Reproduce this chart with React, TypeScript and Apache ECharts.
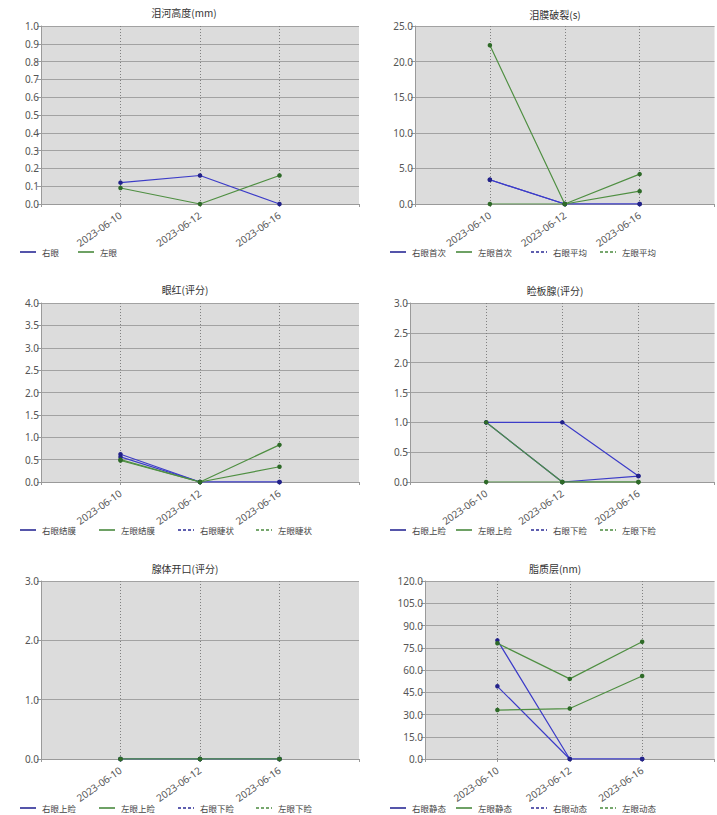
import React, { useEffect, useRef } from "react";
import * as echarts from "echarts";

const dates = ["2023-06-10", "2023-06-12", "2023-06-16"];

const titles = ["泪河高度(mm)", "泪膜破裂(s)", "眼红(评分)", "睑板腺(评分)", "腺体开口(评分)", "脂质层(nm)"];

const names1 = ["右眼", "左眼"];
const names2 = ["右眼首次", "左眼首次", "右眼平均", "左眼平均"];
const names3 = ["右眼结膜", "左眼结膜", "右眼睫状", "左眼睫状"];
const names4 = ["右眼上睑", "左眼上睑", "右眼下睑", "左眼下睑"];
const names5 = ["右眼上睑", "左眼上睑", "右眼下睑", "左眼下睑"];
const names6 = ["右眼静态", "左眼静态", "右眼动态", "左眼动态"];

// 泪河高度
const tearRight = [0.12, 0.16, 0];
const tearLeft = [0.09, 0, 0.16];
// 泪膜破裂
const butRightFirst = [3.4, 0, 0];
const butLeftFirst = [22.3, 0, 4.2];
const butRightAvg = [3.4, 0, 0];
const butLeftAvg = [0, 0, 1.8];
// 眼红
const redRightConj = [0.62, 0, 0];
const redLeftConj = [0.5, 0, 0.83];
const redRightCil = [0.56, 0, 0];
const redLeftCil = [0.48, 0, 0.34];
// 睑板腺
const mgRightUpper = [1, 1, 0.1];
const mgLeftUpper = [1, 0, 0];
const mgRightLower = [1, 0, 0.1];
const mgLeftLower = [0, 0, 0];
// 腺体开口
const goRightUpper = [0, 0, 0];
const goLeftUpper = [0, 0, 0];
const goRightLower = [0, 0, 0];
const goLeftLower = [0, 0, 0];
// 脂质层
const lipRightStatic = [80, 0, 0];
const lipLeftStatic = [78, 54, 79];
const lipRightDynamic = [49, 0, 0];
const lipLeftDynamic = [33, 34, 56];

const yMax = [1, 25, 4, 3, 3, 120];
const yInterval = [0.1, 5, 0.5, 0.5, 1, 15];

const panels = [
  { names: names1, data: [tearRight, tearLeft] },
  { names: names2, data: [butRightFirst, butLeftFirst, butRightAvg, butLeftAvg] },
  { names: names3, data: [redRightConj, redLeftConj, redRightCil, redLeftCil] },
  { names: names4, data: [mgRightUpper, mgLeftUpper, mgRightLower, mgLeftLower] },
  { names: names5, data: [goRightUpper, goLeftUpper, goRightLower, goLeftLower] },
  { names: names6, data: [lipRightStatic, lipLeftStatic, lipRightDynamic, lipLeftDynamic] },
];

const grids = [
  { left: 41, top: 26, width: 318, height: 178 },
  { left: 415, top: 26, width: 312, height: 178 },
  { left: 41, top: 303, width: 318, height: 179 },
  { left: 410, top: 303, width: 318, height: 179 },
  { left: 41, top: 581, width: 318, height: 178 },
  { left: 425, top: 581, width: 304, height: 178 },
];

const titlePos = [
  { x: 184, y: 13 },
  { x: 555, y: 15 },
  { x: 185, y: 290 },
  { x: 555, y: 291 },
  { x: 185, y: 569 },
  { x: 555, y: 569 },
];

const legendY = [252, 252, 530, 530, 808, 808];
const legendX = [
  [20, 78],
  [390, 456, 531, 600],
  [20, 99, 178, 256],
  [390, 456, 531, 600],
  [20, 99, 178, 256],
  [390, 456, 531, 600],
];

const BLUE = "#3c3cc8";
const GREEN = "#4f8f42";
const BLUE_DOT = "#22228a";
const GREEN_DOT = "#2e6a28";
const FONT = "'Noto Sans', 'Noto Sans CJK SC', sans-serif";

export default function App() {
  const ref = useRef<HTMLDivElement>(null);
  useEffect(() => {
    if (!ref.current) return;
    const chart = echarts.init(ref.current, undefined, { renderer: "svg" });

    const xAxes: any[] = [];
    const yAxes: any[] = [];
    const series: any[] = [];
    const graphics: any[] = [];

    panels.forEach((p, gi) => {
      xAxes.push({
        gridIndex: gi,
        type: "value",
        min: 0,
        max: 4,
        interval: 1,
        axisLine: { show: true, lineStyle: { color: "#9a9a9a" } },
        axisTick: { show: true, length: 3, lineStyle: { color: "#9a9a9a" } },
        axisLabel: {
          rotate: 35,
          fontSize: 10,
          color: "#555",
          fontFamily: FONT,
          margin: 10,
          formatter: (v: number) => dates[v - 1] ?? "",
        },
        splitLine: {
          show: true,
          showMinLine: false,
          showMaxLine: false,
          lineStyle: { color: "#808080", type: [1, 2], width: 1 },
        },
      });
      yAxes.push({
        gridIndex: gi,
        type: "value",
        min: 0,
        max: yMax[gi],
        interval: yInterval[gi],
        axisLine: { show: true, lineStyle: { color: "#9a9a9a" } },
        axisTick: { show: true, length: 4, lineStyle: { color: "#9a9a9a" } },
        axisLabel: {
          fontSize: 10,
          color: "#555",
          fontFamily: FONT,
          margin: 2,
          formatter: (v: number) => v.toFixed(1),
        },
        splitLine: { show: true, lineStyle: { color: "#a2a2a2", width: 1 } },
      });
      p.names.forEach((n, si) => {
        const isBlue = si % 2 === 0;
        const c = isBlue ? BLUE : GREEN;
        series.push({
          type: "line",
          name: n,
          id: `s${gi}_${si}`,
          xAxisIndex: gi,
          yAxisIndex: gi,
          data: p.data[si].map((v, i) => [i + 1, v]),
          symbol: "circle",
          symbolSize: 4.5,
          showSymbol: true,
          color: c,
          lineStyle: { color: c, width: 1.2, type: "solid" },
          itemStyle: { color: isBlue ? BLUE_DOT : GREEN_DOT },
          emphasis: { disabled: true },
          z: isBlue ? 2 : 3,
        });
        const lx = legendX[gi][si];
        const ly = legendY[gi];
        graphics.push({
          type: "line",
          shape: { x1: lx, y1: ly, x2: lx + 16, y2: ly },
          style: {
            stroke: isBlue ? "#2a2a95" : "#4a8a3e",
            lineWidth: 1.6,
            lineDash: si >= 2 ? [3, 2] : null,
          },
        });
        graphics.push({
          type: "text",
          x: lx + 22,
          y: ly,
          style: {
            text: n,
            fontSize: 8.5,
            fill: "#444",
            fontFamily: "'Noto Sans CJK SC', sans-serif",
            verticalAlign: "middle",
          },
        });
      });
    });

    const option: any = {
      animation: false,
      backgroundColor: "#ffffff",
      title: titles.map((t, i) => ({
        text: t,
        left: titlePos[i].x,
        top: titlePos[i].y - 6,
        textAlign: "center",
        textStyle: {
          fontSize: 10,
          fontWeight: "normal",
          color: "#333",
          fontFamily: "'Noto Sans CJK SC', sans-serif",
        },
        padding: 0,
      })),
      grid: grids.map((g) => ({
        ...g,
        show: true,
        backgroundColor: "#dcdcdc",
        borderWidth: 0,
        containLabel: false,
      })),
      xAxis: xAxes,
      yAxis: yAxes,
      series,
      graphic: graphics,
    };
    chart.setOption(option);
    return () => chart.dispose();
  }, []);
  return (
    <div
      ref={ref}
      style={{ position: "fixed", left: 0, top: 0, width: 717, height: 815 }}
    />
  );
}
